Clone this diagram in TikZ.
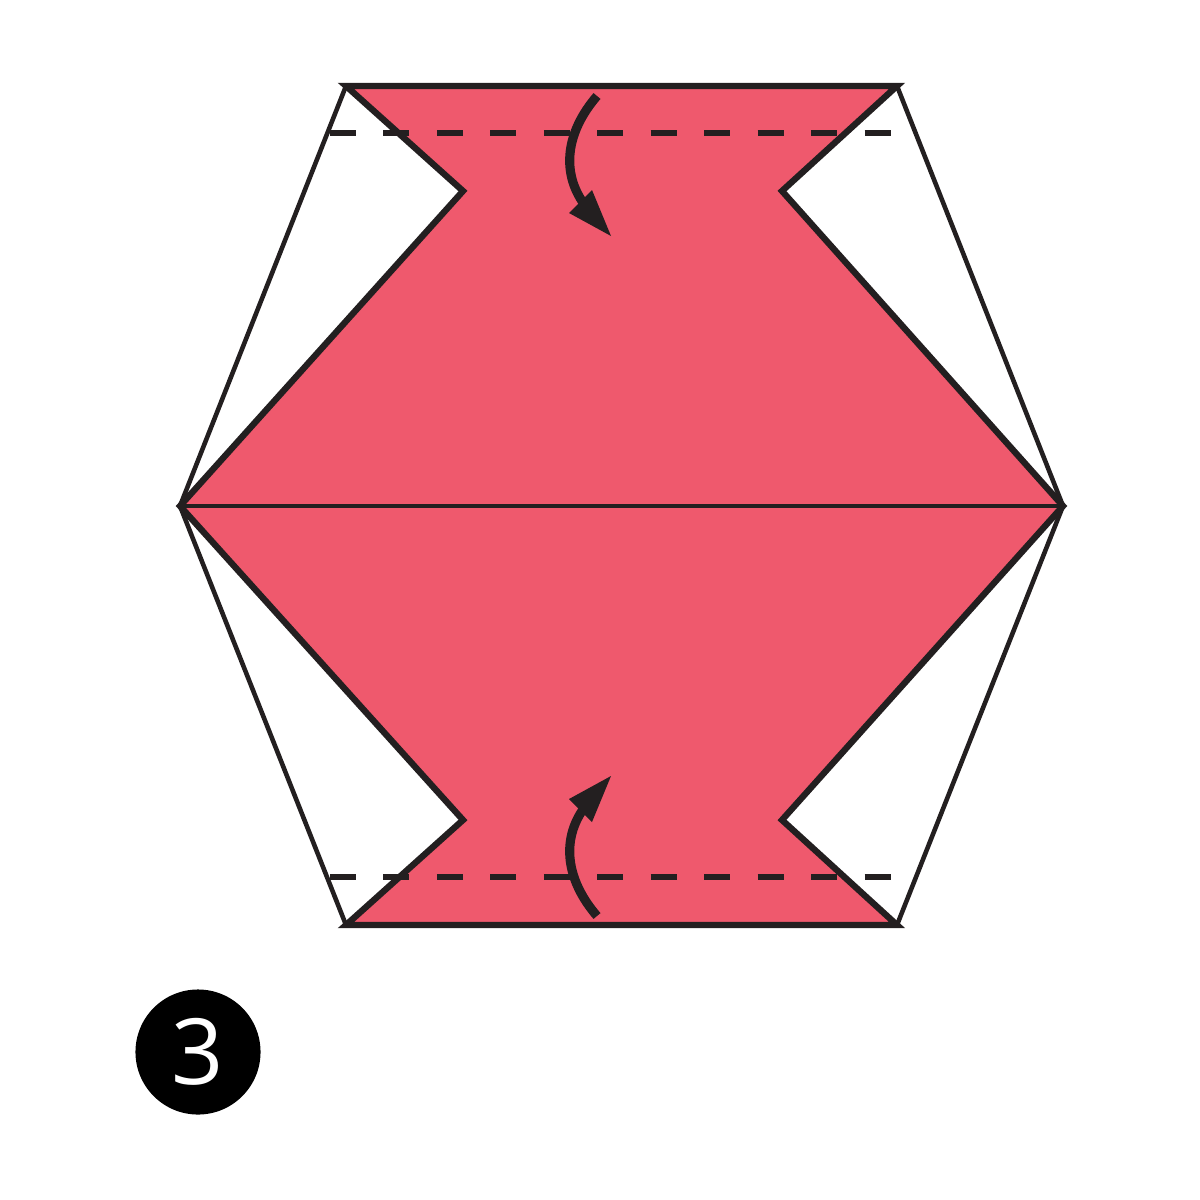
\documentclass[tikz,border=0pt]{standalone}
\usepackage{fontspec}
\setmainfont{Open Sans}
\definecolor{paper}{RGB}{239,89,109}
\definecolor{ink}{RGB}{35,31,32}
\begin{document}
\begin{tikzpicture}[x=0.01cm,y=-0.01cm,
  hexline/.style={draw=ink,line width=1.3pt},
  redshape/.style={fill=paper,draw=ink,line width=1.8pt,line join=miter},
  foldline/.style={draw=ink,line width=1.5pt,dash pattern=on 7.4pt off 7.8pt},
  arrowshaft/.style={draw=ink,line width=2.6pt},
  arrowtip/.style={fill=ink,draw=none}]
\useasboundingbox (0,0) rectangle (1200,1200);
\coordinate (TL) at (346,86);
\coordinate (TR) at (897,86);
\coordinate (L) at (180,506);
\coordinate (R) at (1063,506);
\coordinate (BL) at (346,925);
\coordinate (BR) at (897,925);
\coordinate (NTL) at (463,191);
\coordinate (NTR) at (782,191);
\coordinate (NBL) at (463,820);
\coordinate (NBR) at (782,820);
% hexagon outline
\draw[hexline] (TL) -- (TR) -- (R) -- (BR) -- (BL) -- (L) -- cycle;
% red paper
\draw[redshape] (TL) -- (TR) -- (NTR) -- (R) -- (NBR) -- (BR) -- (BL) -- (NBL) -- (L) -- (NTL) -- cycle;
\draw[hexline] (L) -- (R);
% fold lines
\coordinate (D1a) at (330,133);
\coordinate (D1b) at (893,133);
\coordinate (D2a) at (330,877);
\coordinate (D2b) at (893,877);
\draw[foldline] (D1a) -- (D1b);
\draw[foldline] (D2a) -- (D2b);
% top arrow
\coordinate (A1s) at (597,96);
\coordinate (A1e) at (584,204);
\draw[arrowshaft,line cap=butt] (A1s) .. controls (566,132) and (561,172) .. (A1e);
\fill[arrowtip] (611,236) -- (569,213) -- (592,190) -- cycle;
% bottom arrow
\coordinate (A2s) at (597,916);
\coordinate (A2e) at (584,808);
\draw[arrowshaft,line cap=butt] (A2s) .. controls (566,880) and (561,840) .. (A2e);
\fill[arrowtip] (611,776) -- (569,799) -- (592,822) -- cycle;
% step number
\node[circle,fill=black,minimum size=1.25cm,inner sep=0pt,text=white,font=\fontsize{26}{28}\selectfont] (step) at (198,1052) {3};
\end{tikzpicture}
\end{document}
